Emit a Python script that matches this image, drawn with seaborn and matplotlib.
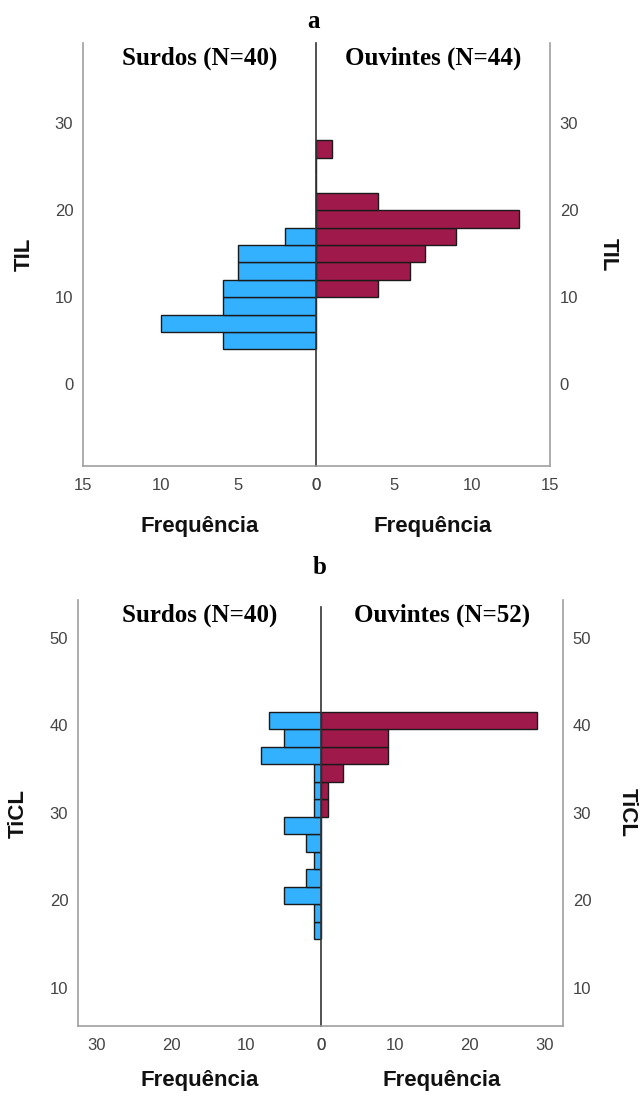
import numpy as np
import seaborn as sns
import matplotlib.pyplot as plt

sns.set_theme(style="white")
plt.rcParams['font.family'] = ['Liberation Sans', 'DejaVu Sans']

# Panel a: TIL (bin width 2)
til_edges = [4, 6, 8, 10, 12, 14, 16, 18, 20, 22, 24, 26, 28]
til_surdos_mid = [5, 7, 9, 11, 13, 15, 17]
til_surdos_freq = [6, 10, 6, 6, 5, 5, 2]
til_ouvintes_mid = [11, 13, 15, 17, 19, 21, 27]
til_ouvintes_freq = [4, 6, 7, 9, 13, 4, 1]

# Panel b: TiCL (bin width 2)
ticl_edges = [15.5, 17.5, 19.5, 21.5, 23.5, 25.5, 27.5, 29.5, 31.5, 33.5, 35.5, 37.5, 39.5, 41.5]
ticl_surdos_mid = [16.5, 18.5, 20.5, 22.5, 24.5, 26.5, 28.5, 30.5, 32.5, 34.5, 36.5, 38.5, 40.5]
ticl_surdos_freq = [1, 1, 5, 2, 1, 2, 5, 1, 1, 1, 8, 5, 7]
ticl_ouvintes_mid = [30.5, 32.5, 34.5, 36.5, 38.5, 40.5]
ticl_ouvintes_freq = [1, 1, 3, 9, 9, 29]

BLUE = '#33b1ff'
RED = '#a0194b'
EDGE = '#1a1a1a'
SPINE = '#a0a0a0'
TICK = '#444444'

W, H = 640, 1097
fig = plt.figure(figsize=(W / 100, H / 100), dpi=100)


def px_axes(x0, x1, y0, y1):
    return fig.add_axes([x0 / W, 1 - y1 / H, (x1 - x0) / W, (y1 - y0) / H])


def panel(xl, xc, xr, yt, yb, ylim, yticks, xmax, xticks, var, ylab_x, groups,
          left_data, right_data, center_top=None, xlabpad=16):
    axl = px_axes(xl, xc, yt, yb)
    axr = px_axes(xc, xr, yt, yb)
    edges = left_data[0]
    sns.histplot(y=left_data[1], weights=left_data[2], bins=edges, ax=axl,
                 color=BLUE, edgecolor=EDGE, linewidth=1, alpha=1)
    sns.histplot(y=right_data[1], weights=right_data[2], bins=edges, ax=axr,
                 color=RED, edgecolor=EDGE, linewidth=1, alpha=1)
    axl.set_xlim(xmax, 0)
    axr.set_xlim(0, xmax)
    for ax in (axl, axr):
        ax.set_ylim(*ylim)
        ax.set_yticks(yticks)
        ax.set_xticks(xticks)
        ax.set_xticklabels([str(t) for t in xticks])
        ax.tick_params(length=0, labelsize=12, labelcolor=TICK, pad=7)
        ax.tick_params(axis='x', pad=9)
        ax.set_xlabel('Frequência', fontsize=16, fontweight='bold',
                      color='#111111', labelpad=xlabpad)
        ax.set_ylabel('')
        ax.spines['top'].set_visible(False)
        ax.spines['bottom'].set_color(SPINE)
        ax.spines['bottom'].set_linewidth(1.2)
        ax.set_facecolor('none')
    axl.spines['right'].set_visible(False)
    axl.spines['left'].set_color(SPINE)
    axl.spines['left'].set_linewidth(1.2)
    axr.spines['left'].set_color('#333333')
    axr.spines['left'].set_linewidth(1.2)
    if center_top is not None:
        axr.spines['left'].set_bounds(ylim[0], center_top)
    axr.spines['right'].set_color(SPINE)
    axr.spines['right'].set_linewidth(1.2)
    axr.yaxis.tick_right()
    axr.set_zorder(2)
    ymid = 1 - (yt + yb) / 2 / H
    fig.text(ylab_x[0] / W, ymid, var, rotation=90, ha='center', va='center',
             fontsize=16, fontweight='bold', color='#111111')
    fig.text(ylab_x[1] / W, ymid, var, rotation=-90, ha='center', va='center',
             fontsize=16, fontweight='bold', color='#111111')
    for x, txt in zip(((xl + xc) / 2, (xc + xr) / 2), groups):
        fig.text(x / W, 1 - (yt + 15) / H, txt, ha='center', va='center',
                 fontsize=18, fontweight='bold', family='Liberation Serif',
                 color='black')
    return axl, axr


# panel a
fig.text(313 / W, 1 - 22 / H, 'a', ha='center', va='center', fontsize=18,
         fontweight='bold', family='Liberation Serif', color='black')
panel(83, 316, 550, 43, 466, (-9.4, 39.2), [0, 10, 20, 30], 15, [0, 5, 10, 15],
      'TIL', (24, 608), ['Surdos (N=40)', 'Ouvintes (N=44)'],
      (til_edges, til_surdos_mid, til_surdos_freq),
      (til_edges, til_ouvintes_mid, til_ouvintes_freq), xlabpad=16)

# panel b
fig.text(320 / W, 1 - 567 / H, 'b', ha='center', va='center', fontsize=18,
         fontweight='bold', family='Liberation Serif', color='black')
panel(78, 321, 563, 600, 1026, (5.6, 54.3), [10, 20, 30, 40, 50], 32.5, [0, 10, 20, 30],
      'TiCL', (18, 627), ['Surdos (N=40)', 'Ouvintes (N=52)'],
      (ticl_edges, ticl_surdos_mid, ticl_surdos_freq),
      (ticl_edges, ticl_ouvintes_mid, ticl_ouvintes_freq),
      center_top=53.5, xlabpad=12)

fig.savefig('out.png', dpi=100)
